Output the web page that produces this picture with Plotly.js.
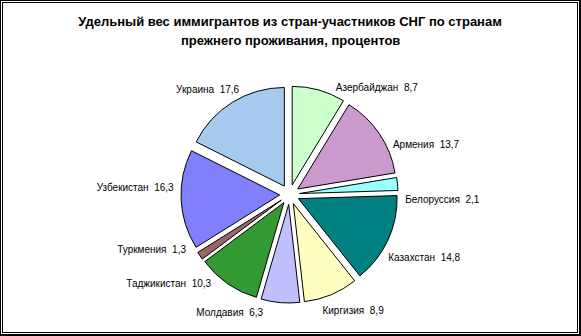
<!DOCTYPE html>
<html>
<head>
<meta charset="utf-8">
<script src="https://cdn.plot.ly/plotly-3.0.1.min.js"></script>
<style>
html,body{margin:0;padding:0;background:#fff;}
#frame{position:absolute;left:0;top:0;width:576px;height:331px;border-style:solid;border-color:#000;border-width:1px 2px 2px 1px;padding:1px;}
#inner{width:574px;height:329px;border:1px solid #000;overflow:hidden;}
#chart{width:574px;height:329px;}
</style>
</head>
<body>
<div id="frame"><div id="inner"><div id="chart"></div></div></div>
<script>
var countries = ['Азербайджан','Армения','Белоруссия','Казахстан','Киргизия','Молдавия','Таджикистан','Туркмения','Узбекистан','Украина'];
var shares = [8.7, 13.7, 2.1, 14.8, 8.9, 6.3, 10.3, 1.3, 16.3, 17.6];
var sliceColors = ['#CCFFCC','#CC99CC','#99FFFF','#008080','#FFFFC0','#C0C0FF','#339933','#996666','#8080FF','#A6CAF0'];
var titleLine1 = 'Удельный вес иммигрантов из стран-участников СНГ по странам';
var titleLine2 = 'прежнего проживания, процентов';

var font = 'Liberation Sans, Arial, sans-serif';

// slices (exploded)
var slices = {
  type: 'pie',
  labels: countries,
  values: shares,
  sort: false,
  direction: 'clockwise',
  rotation: 0,
  pull: shares.map(function(){return 0.1;}),
  marker: {colors: sliceColors, line: {color: '#000', width: 1}},
  textinfo: 'none',
  hoverinfo: 'none',
  showlegend: false,
  domain: {x: [0.3101, 0.6882], y: [0.0881, 0.7477]}
};

// data labels drawn by a transparent companion pie with a wider radius
var labelsPie = {
  type: 'pie',
  labels: countries,
  values: shares,
  sort: false,
  direction: 'clockwise',
  rotation: 7,
  marker: {colors: countries.map(function(){return 'rgba(0,0,0,0)';}), line: {width: 0}},
  textposition: 'outside',
  texttemplate: '%{label}  %{value:.1f}',
  textfont: {family: font, size: 10, color: '#000'},
  hoverinfo: 'none',
  showlegend: false,
  domain: {x: [0.3023, 0.6960], y: [0.0684, 0.7553]}
};

var layout = {
  width: 574, height: 329,
  margin: {l: 0, r: 0, t: 0, b: 0},
  paper_bgcolor: '#fff',
  separators: ', ',
  title: {text: titleLine1, x: 0.5, xanchor: 'center', y: 0.945, yanchor: 'middle',
          font: {family: font, size: 13, color: '#000', weight: 'bold'}},
  annotations: [{text: titleLine2, xref: 'paper', yref: 'paper', x: 0.5, y: 0.885,
                 xanchor: 'center', yanchor: 'middle', showarrow: false,
                 font: {family: font, size: 13, color: '#000', weight: 'bold'}}],
  showlegend: false
};

Plotly.newPlot('chart', [slices, labelsPie], layout, {staticPlot: true});
</script>
</body>
</html>
